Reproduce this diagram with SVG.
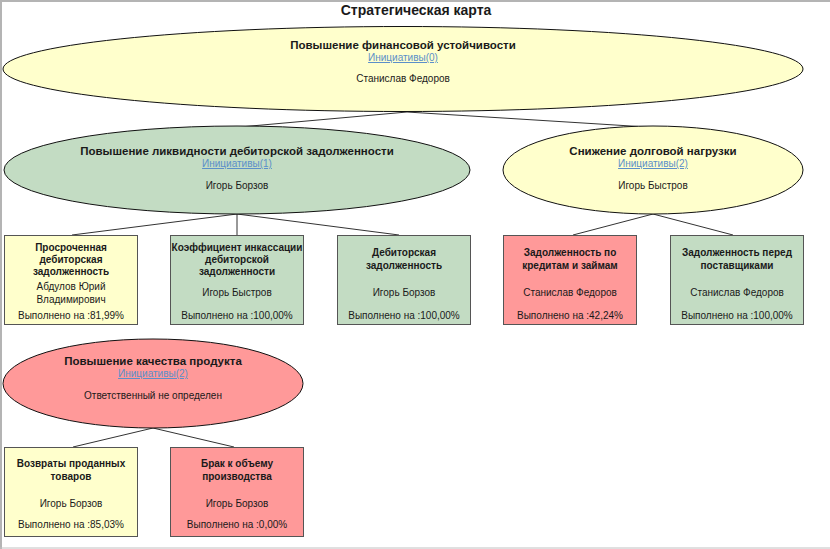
<svg xmlns="http://www.w3.org/2000/svg" width="830" height="549" viewBox="0 0 830 549">
<style>
text{font-family:"Liberation Sans",Arial,sans-serif;text-anchor:middle;fill:#1a1a1a}
.t{font-size:14px;font-weight:bold}
.et{font-size:11.5px;font-weight:bold}
.lk{font-size:10px;fill:#5b8fc9;text-decoration:underline}
.nm{font-size:10px}
.bt{font-size:10px;font-weight:bold}
.bn{font-size:10px}
.ell{stroke:#111;stroke-width:1}
.box{stroke:#555;stroke-width:1}
.y{fill:#ffffcc}
.g{fill:#c3dcc3}
.r{fill:#ff9999}
.c line{stroke:#333;stroke-width:1}
</style>
<rect x="0" y="0" width="830" height="549" fill="#fff"/>
<line x1="1" y1="0" x2="1" y2="549" stroke="#b4b4b4" stroke-width="2"/>
<line x1="0" y1="1" x2="830" y2="1" stroke="#b4b4b4" stroke-width="2"/>
<line x1="0" y1="548" x2="830" y2="548" stroke="#c0c0c0" stroke-width="1"/>
<text class="t" x="416" y="15">Стратегическая карта</text>
<g class="c" id="connectors">
<line x1="407" y1="112" x2="240" y2="127"/>
<line x1="407" y1="112" x2="647" y2="127"/>
<line x1="237" y1="214" x2="72" y2="235"/>
<line x1="237" y1="214" x2="237" y2="235"/>
<line x1="237" y1="214" x2="399" y2="235"/>
<line x1="653" y1="214" x2="573" y2="235"/>
<line x1="653" y1="214" x2="733" y2="235"/>
<line x1="153" y1="428" x2="73" y2="447"/>
<line x1="153" y1="428" x2="234" y2="447"/>
</g>
<g id="n-top">
<ellipse class="ell y" cx="403" cy="69" rx="400" ry="42.5"/>
<text class="et" x="403" y="49">Повышение финансовой устойчивости</text>
<text class="lk" x="403" y="61">Инициативы(0)</text>
<text class="nm" x="403" y="82">Станислав Федоров</text>
</g>
<g id="n-liq">
<ellipse class="ell g" cx="237" cy="170" rx="233" ry="44"/>
<text class="et" x="237" y="155">Повышение ликвидности дебиторской задолженности</text>
<text class="lk" x="237" y="167">Инициативы(1)</text>
<text class="nm" x="237" y="189">Игорь Борзов</text>
</g>
<g id="n-debt">
<ellipse class="ell y" cx="653" cy="170" rx="150" ry="44"/>
<text class="et" x="653" y="155">Снижение долговой нагрузки</text>
<text class="lk" x="653" y="167">Инициативы(2)</text>
<text class="nm" x="653" y="189">Игорь Быстров</text>
</g>
<g id="n-b1">
<rect class="box y" x="4.5" y="235.5" width="133" height="89"/>
<text class="bt" x="71" y="251">Просроченная</text>
<text class="bt" x="71" y="263">дебиторская</text>
<text class="bt" x="71" y="275">задолженность</text>
<text class="bn" x="71" y="290">Абдулов Юрий</text>
<text class="bn" x="71" y="303">Владимирович</text>
<text class="bn" x="71" y="319">Выполнено на :81,99%</text>
</g>
<g id="n-b2">
<rect class="box g" x="170.5" y="235.5" width="133" height="89"/>
<text class="bt" x="237" y="251">Коэффициент инкассации</text>
<text class="bt" x="237" y="263">дебиторской</text>
<text class="bt" x="237" y="275">задолженности</text>
<text class="bn" x="237" y="296">Игорь Быстров</text>
<text class="bn" x="237" y="319">Выполнено на :100,00%</text>
</g>
<g id="n-b3">
<rect class="box g" x="337.5" y="235.5" width="133" height="89"/>
<text class="bt" x="404" y="256">Дебиторская</text>
<text class="bt" x="404" y="269">задолженность</text>
<text class="bn" x="404" y="296">Игорь Борзов</text>
<text class="bn" x="404" y="319">Выполнено на :100,00%</text>
</g>
<g id="n-b4">
<rect class="box r" x="503.5" y="235.5" width="133" height="89"/>
<text class="bt" x="570" y="256">Задолженность по</text>
<text class="bt" x="570" y="269">кредитам и займам</text>
<text class="bn" x="570" y="296">Станислав Федоров</text>
<text class="bn" x="570" y="319">Выполнено на :42,24%</text>
</g>
<g id="n-b5">
<rect class="box g" x="670.5" y="235.5" width="133" height="89"/>
<text class="bt" x="737" y="256">Задолженность перед</text>
<text class="bt" x="737" y="269">поставщиками</text>
<text class="bn" x="737" y="296">Станислав Федоров</text>
<text class="bn" x="737" y="319">Выполнено на :100,00%</text>
</g>
<g id="n-qual">
<ellipse class="ell r" cx="153" cy="383.5" rx="150" ry="44.5"/>
<text class="et" x="153" y="365">Повышение качества продукта</text>
<text class="lk" x="153" y="377">Инициативы(2)</text>
<text class="nm" x="153" y="399">Ответственный не определен</text>
</g>
<g id="n-b6">
<rect class="box y" x="4.5" y="447.5" width="133" height="89"/>
<text class="bt" x="71" y="467">Возвраты проданных</text>
<text class="bt" x="71" y="480">товаров</text>
<text class="bn" x="71" y="507">Игорь Борзов</text>
<text class="bn" x="71" y="528">Выполнено на :85,03%</text>
</g>
<g id="n-b7">
<rect class="box r" x="170.5" y="447.5" width="133" height="89"/>
<text class="bt" x="237" y="467">Брак к объему</text>
<text class="bt" x="237" y="480">производства</text>
<text class="bn" x="237" y="507">Игорь Борзов</text>
<text class="bn" x="237" y="528">Выполнено на :0,00%</text>
</g>
</svg>
